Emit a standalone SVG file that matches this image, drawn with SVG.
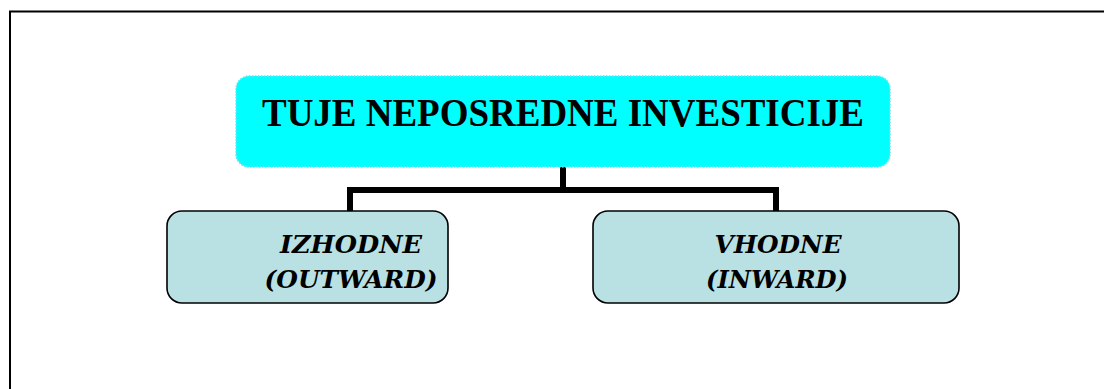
<svg xmlns="http://www.w3.org/2000/svg" width="1104" height="389" viewBox="0 0 1104 389">
<style>
.frame{fill:none;stroke:#000;stroke-width:2}
.top{fill:#00FFFF;stroke:#66E8F0;stroke-width:1.5;stroke-dasharray:1.5 1.5}
.sub{fill:#B9E0E3;stroke:#000;stroke-width:1.6}
.conn{fill:none;stroke:#000;stroke-width:6;stroke-linejoin:miter}
.title{font-family:"Liberation Serif","Times New Roman",serif;font-weight:bold;font-size:39px;fill:#000}
.lbl{font-family:"DejaVu Serif","Liberation Serif",serif;font-weight:bold;font-style:italic;font-size:25px;fill:#000}
</style>
<rect width="1104" height="389" fill="#fff"/>
<path class="frame" d="M10,389 V11.5 H1104"/>
<g id="connectors">
<path class="conn" d="M563,167 V190"/>
<path class="conn" d="M350,212 V190 H776 V212"/>
</g>
<g id="node-root">
<rect class="top" x="236" y="76" width="654" height="91" rx="13" ry="13"/>
<text class="title" x="563" y="126" text-anchor="middle" textLength="602" lengthAdjust="spacingAndGlyphs">TUJE NEPOSREDNE INVESTICIJE</text>
</g>
<g id="node-outward">
<rect class="sub" x="167" y="211" width="281" height="92" rx="15" ry="15"/>
<text class="lbl" x="351" y="253" text-anchor="middle" textLength="142" lengthAdjust="spacingAndGlyphs">IZHODNE</text>
<text class="lbl" x="351" y="288" text-anchor="middle" textLength="173" lengthAdjust="spacingAndGlyphs">(OUTWARD)</text>
</g>
<g id="node-inward">
<rect class="sub" x="593" y="211" width="366" height="92" rx="15" ry="15"/>
<text class="lbl" x="778" y="253" text-anchor="middle" textLength="127" lengthAdjust="spacingAndGlyphs">VHODNE</text>
<text class="lbl" x="777" y="288" text-anchor="middle" textLength="142" lengthAdjust="spacingAndGlyphs">(INWARD)</text>
</g>
</svg>
